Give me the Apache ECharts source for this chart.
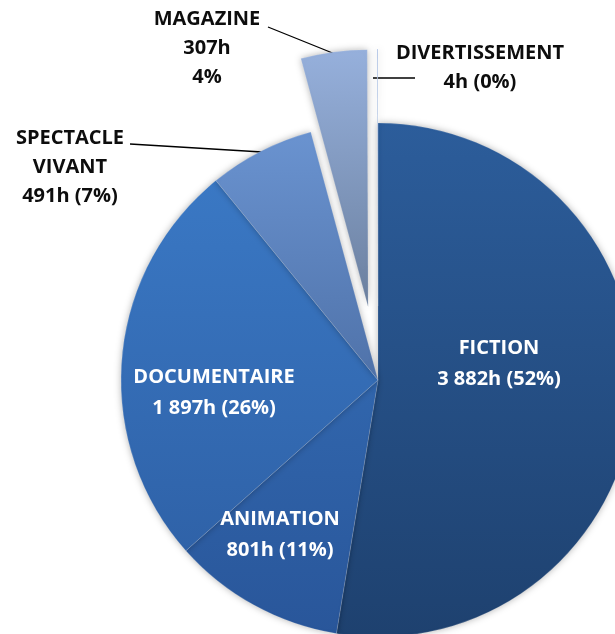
<!DOCTYPE html>
<html>
<head>
<meta charset="utf-8">
<script src="https://cdn.jsdelivr.net/npm/echarts@6/dist/echarts.min.js"></script>
<style>
    html, body { margin: 0; padding: 0; background: #fff; }
    #chart { width: 615px; height: 634px; }
</style>
</head>
<body>
<div id="chart"></div>
<script>
var genres = ['FICTION', 'ANIMATION', 'DOCUMENTAIRE', 'SPECTACLE VIVANT', 'MAGAZINE', 'DIVERTISSEMENT'];
var hours = [3882, 801, 1897, 491, 307, 4];
var pulledOut = [false, false, false, false, true, true];

// styles
var topColors = ['#2c5d9b', '#3166ad', '#3a78c4', '#6a93d0', '#96b0dc', '#a4bbe2'];
var bottomColors = ['#1e416f', '#29569a', '#2f62a8', '#4f72a9', '#6b809f', '#8ea6cf'];
var insideLabel = { 'FICTION': [499, 364], 'ANIMATION': [280, 535], 'DOCUMENTAIRE': [214, 393] };
var outsideLabel = {
    'SPECTACLE VIVANT': { pos: [70, 167], start: [262, 152], end: [130, 144] },
    'MAGAZINE': { pos: [207, 48], start: [335, 54], end: [268, 27] },
    'DIVERTISSEMENT': { pos: [480, 68], start: [373, 78], end: [415, 78] }
};

function fmtHours(v) {
    return v.toString().replace(/\B(?=(\d{3})+(?!\d))/g, ' ') + 'h';
}

function labelText(p) {
    var h = fmtHours(p.value);
    if (p.name == 'MAGAZINE') {
        return p.name + '\n' + h + '\n' + p.percent + '%';
    }
    if (p.name == 'SPECTACLE VIVANT') {
        return 'SPECTACLE\nVIVANT\n' + h + ' (' + p.percent + '%)';
    }
    return p.name + '\n' + h + ' (' + p.percent + '%)';
}

var sliceData = [];
var labelData = [];
for (var i = 0; i < genres.length; i++) {
    var outside = outsideLabel[genres[i]] != null;
    sliceData.push({
        name: genres[i],
        value: hours[i],
        selected: pulledOut[i],
        itemStyle: {
            color: new echarts.graphic.LinearGradient(0, 0, 0, 1, [
                { offset: 0, color: topColors[i] },
                { offset: 1, color: bottomColors[i] }
            ])
        },
        label: { show: !outside }
    });
    labelData.push({
        name: genres[i],
        value: hours[i],
        label: { show: outside },
        labelLine: { show: outside }
    });
}

var labelFont = {
    fontFamily: 'Open Sans',
    fontWeight: 'bold',
    fontSize: 20,
    align: 'center',
    formatter: labelText
};

var myChart = echarts.init(document.getElementById('chart'));
var option = {
    animation: false,
    series: [{
        type: 'pie',
        center: [378, 380],
        radius: 257,
        startAngle: 90,
        clockwise: true,
        selectedMode: 'multiple',
        selectedOffset: 74,
        percentPrecision: 0,
        avoidLabelOverlap: false,
        itemStyle: {
            borderColor: 'rgba(255,255,255,0.25)',
            borderWidth: 0.6,
            shadowBlur: 7,
            shadowColor: 'rgba(0,0,0,0.3)'
        },
        emphasis: { disabled: true },
        label: Object.assign({ position: 'inside', color: '#ffffff', lineHeight: 31 }, labelFont),
        labelLine: { show: false },
        labelLayout: function (params) {
            var p = insideLabel[genres[params.dataIndex]];
            if (!p) return {};
            return { x: p[0], y: p[1], align: 'center', verticalAlign: 'middle' };
        },
        data: sliceData
    }, {
        // same slices, transparent, only carries the outside labels
        type: 'pie',
        center: [378, 380],
        radius: 257,
        startAngle: 90,
        clockwise: true,
        silent: true,
        percentPrecision: 0,
        avoidLabelOverlap: false,
        itemStyle: { color: 'rgba(0,0,0,0)' },
        emphasis: { disabled: true },
        label: Object.assign({ position: 'outside', color: '#0d0d0d', lineHeight: 29 }, labelFont),
        labelLine: {
            lineStyle: { color: '#000', width: 1.3 }
        },
        labelLayout: function (params) {
            var o = outsideLabel[genres[params.dataIndex]];
            if (!o) return {};
            return {
                x: o.pos[0], y: o.pos[1], align: 'center', verticalAlign: 'middle',
                labelLinePoints: [o.start, [(o.start[0] + o.end[0]) / 2, (o.start[1] + o.end[1]) / 2], o.end]
            };
        },
        data: labelData
    }]
};
myChart.setOption(option);
</script>
</body>
</html>
